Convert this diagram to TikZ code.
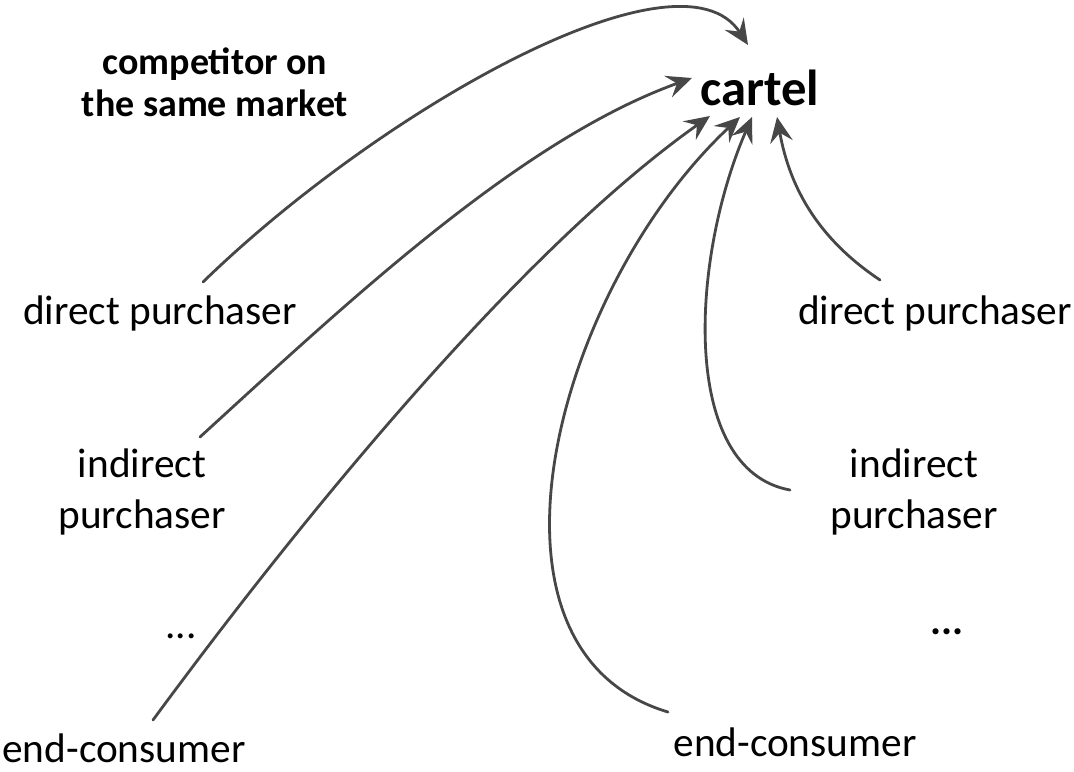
\documentclass[tikz,border=0pt]{standalone}
\usepackage{fontspec}
\setmainfont{Carlito}
\usetikzlibrary{arrows.meta}
\begin{document}
\begin{tikzpicture}[x=0.75pt,y=-0.75pt,
  lbl/.style={inner sep=0pt, align=center, font=\fontsize{31}{38}\selectfont},
  boldlbl/.style={inner sep=0pt, align=center, font=\fontsize{28.5}{31.5}\selectfont\bfseries},
  conn/.style={draw=black!72, line width=2.1pt, line cap=round,
    -{Stealth[length=19pt, width=17pt, inset=7pt]}}]
\useasboundingbox (0,0) rectangle (1074,771);
\node[inner sep=0pt, font=\fontsize{38}{44}\selectfont\bfseries] (cartel) at (760,88) {cartel};
\node[boldlbl] (comp) at (215,82) {competitor on\\the same market};
\node[lbl] (dpL) at (160,313) {direct purchaser};
\node[lbl] (dpR) at (935,313) {direct purchaser};
\node[lbl] (ipL) at (142,492) {indirect\\purchaser};
\node[lbl] (ipR) at (914,492) {indirect\\purchaser};
\node[lbl] (dotsL) at (181,636) {...};
\node[lbl, font=\fontsize{31}{38}\selectfont\bfseries] (dotsR) at (947,632) {...};
\node[lbl] (ecL) at (124,748) {end-consumer};
\node[lbl] (ecR) at (795,742) {end-consumer};
% connector ends
\coordinate (s1) at (203,282);
\coordinate (e1) at (748,45);
\coordinate (s2) at (200,437);
\coordinate (e2) at (692,78);
\coordinate (s3) at (153,720);
\coordinate (e3) at (710,116);
\coordinate (s4) at (668,712);
\coordinate (e4) at (740,117);
\coordinate (s5) at (790,490);
\coordinate (e5) at (752,117);
\coordinate (s6) at (880,280);
\coordinate (e6) at (777,117);
\draw[conn] (s1) .. controls (380,110) and (680,-60) .. (e1);
\draw[conn] (s2) .. controls (350,300) and (520,140) .. (e2);
\draw[conn] (s3) .. controls (300,520) and (520,250) .. (e3);
\draw[conn] (s4) .. controls (460,650) and (555,290) .. (e4);
\draw[conn] (s5) .. controls (680,470) and (690,260) .. (e5);
\draw[conn] (s6) .. controls (820,240) and (790,190) .. (e6);
\end{tikzpicture}
\end{document}
